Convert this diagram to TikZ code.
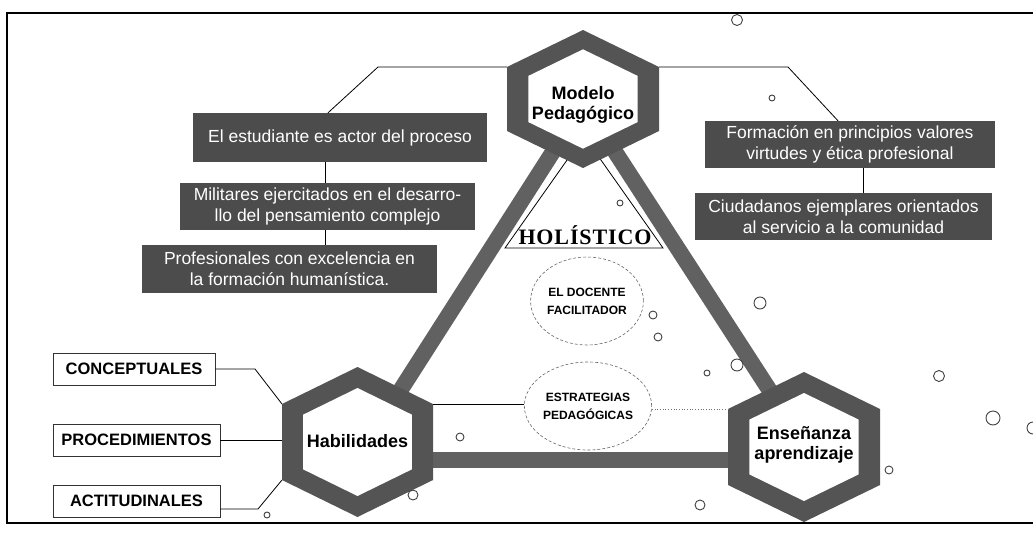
\documentclass[tikz,border=0pt]{standalone}
\usepackage{fontspec}
\setmainfont{Liberation Sans}
\newfontfamily\holfont[LetterSpace=4]{Liberation Serif}
\usetikzlibrary{shapes.geometric,calc}
\definecolor{ringgray}{gray}{0.33}
\definecolor{bargray}{gray}{0.38}
\definecolor{boxgray}{gray}{0.30}
\tikzset{
  ring/.style={fill=ringgray},
  bar/.style={draw=bargray,line width=16pt},
  conn/.style={draw=black,line width=0.8pt},
  darkbox/.style={fill=boxgray,text=white,inner sep=0pt,align=center,
    font=\fontsize{17.5}{21}\selectfont},
  skillbox/.style={draw=black!80,line width=0.7pt,fill=white,inner sep=0pt,
    font=\bfseries\fontsize{16.5}{20}\selectfont},
  hexlabel/.style={align=center,inner sep=0pt,font=\bfseries\fontsize{18}{20}\selectfont},
  oval/.style={ellipse,draw=black!60,densely dashed,line width=0.6pt,
    minimum width=104pt,minimum height=88pt,align=center,inner sep=0pt,
    font=\bfseries\fontsize{12}{18}\selectfont},
  bubble/.style={draw=black!75,line width=0.9pt},
}
\newcommand\myhex[6]{%
  \fill[ring] (#2,#3-#5) -- (#2+#4,#3-#6) -- (#2+#4,#3+#6) -- (#2,#3+#5)
    -- (#2-#4,#3+#6) -- (#2-#4,#3-#6) -- cycle;
  \fill[white] (#2,#3-0.72*#5) -- (#2+0.72*#4,#3-0.72*#6) -- (#2+0.72*#4,#3+0.72*#6)
    -- (#2,#3+0.72*#5) -- (#2-0.72*#4,#3+0.72*#6) -- (#2-0.72*#4,#3-0.72*#6) -- cycle;
  \coordinate (#1-ul) at (#2-#4,#3-#6);
  \coordinate (#1-ur) at (#2+#4,#3-#6);
  \coordinate (#1-ll) at (#2-#4,#3+#6);
  \coordinate (#1-lr) at (#2+#4,#3+#6);
  \coordinate (#1-t) at (#2,#3-#5);
  \coordinate (#1-b) at (#2,#3+#5);
}
\begin{document}
\begin{tikzpicture}[x=1pt,y=-1pt]
\useasboundingbox (0,0) rectangle (1033,533);
% frame
\draw[line width=2.2pt] (1040,13) -- (7,13) -- (7,523) -- (1040,523);

% bars of the triangle
\coordinate (lb1) at (556,147);
\coordinate (lb2) at (398,394);
\coordinate (rb1) at (612,147);
\coordinate (rb2) at (772,394);
\coordinate (bb1) at (420,460);
\coordinate (bb2) at (740,460);
\draw[bar] (lb1) -- (lb2);
\draw[bar] (rb1) -- (rb2);
\draw[bar] (bb1) -- (bb2);

% holistic triangle
\coordinate (h1) at (505,248);
\coordinate (h2) at (584,136);
\coordinate (h3) at (663,248);
\draw[line width=0.8pt,fill=white] (h1) -- (h2) -- (h3) -- cycle;
\node[inner sep=0pt,font=\holfont\bfseries\fontsize{22}{22}\selectfont] (hol) at (585,235) {HOLÍSTICO};

% hexagons
\myhex{mp}{583}{99}{76}{69}{32}
\myhex{hb}{357.5}{442}{75.5}{75}{38}
\myhex{en}{804}{447}{76}{75}{38}
\node[hexlabel] (mpl) at (583,105) {Modelo\\Pedagógico};
\node[hexlabel] (hbl) at (357.5,441) {Habilidades};
\node[hexlabel] (enl) at (804,445) {Enseñanza\\aprendizaje};

% ovals
\node[oval] (doc) at (587,301) {EL DOCENTE\\FACILITADOR};
\node[oval] (est) at (588,406) {ESTRATEGIAS\\PEDAGÓGICAS};
\draw[line width=0.7pt] (hb-ur) -- (hb-ur -| est.west);
\draw[black!55,line width=0.7pt,dotted] (en-ul -| est.east) -- (en-ul);

% dark boxes left
\node[darkbox,minimum width=294pt,minimum height=49pt] (b1) at (340,137.5) {El estudiante es actor del proceso};
\node[darkbox,minimum width=295pt,minimum height=47pt] (b2) at (327.5,206.5) {Militares ejercitados en el desarro-\\llo del pensamiento complejo};
\node[darkbox,minimum width=295pt,minimum height=48pt] (b3) at (289.5,269) {Profesionales con excelencia en\\la formación humanística.};
% dark boxes right
\node[darkbox,minimum width=290pt,minimum height=47pt] (r1) at (850,144.5) {Formación en principios valores\\virtudes y ética profesional};
\node[darkbox,minimum width=297pt,minimum height=47pt] (r2) at (843.5,216.5) {Ciudadanos ejemplares orientados\\al servicio a la comunidad};

% connectors to Modelo
\coordinate (ka) at (328,0);
\coordinate (kb) at (378,67);
\draw[conn] (b1.north -| ka) -- (kb) -- (mp-ul);
\coordinate (kc) at (838,0);
\coordinate (kd) at (788,67);
\draw[conn] (mp-ur) -- (kd) -- (r1.north -| kc);
\coordinate (vl) at (325,0);
\draw[conn] (b1.south -| vl) -- (b2.north -| vl);
\draw[conn] (b2.south -| vl) -- (b3.north -| vl);
\coordinate (vr) at (863,0);
\draw[conn] (r1.south -| vr) -- (r2.north -| vr);

% skill boxes
\node[skillbox,minimum width=162pt,minimum height=32pt] (co) at (134,369) {CONCEPTUALES};
\node[skillbox,minimum width=167pt,minimum height=32pt] (pr) at (136.5,440) {PROCEDIMIENTOS};
\node[skillbox,minimum width=167pt,minimum height=32pt] (ac) at (136.5,501) {ACTITUDINALES};
\coordinate (c1) at (255,369);
\draw[conn] (co.east) -- (c1) -- (hb-ul);
\draw[conn] (pr.east) -- (pr.east -| hb-ul);
\coordinate (c3) at (258,509);
\draw[conn] (ac.east |- c3) -- (c3) -- (hb-ll);

% bubbles
\foreach \x/\y/\r in {737/20/5.5, 772/98/3, 620/203/3, 760/303/6, 653/315/4,
  658/337/4, 737/365/6, 707/373/3, 939/376/5.5, 993/418/7, 1033/428/6,
  889/470/4, 460/437/4, 413/495/5, 700/505/5, 267/515/3}
  \draw[bubble] (\x,\y) circle (\r);
\end{tikzpicture}
\end{document}
